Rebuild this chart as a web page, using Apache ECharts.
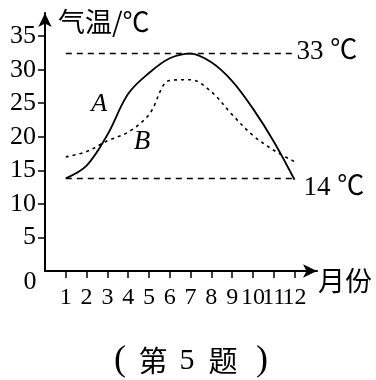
<!DOCTYPE html>
<html><head><meta charset="utf-8">
<script src="https://cdn.jsdelivr.net/npm/echarts@6/dist/echarts.min.js"></script>
<style>html,body{margin:0;padding:0;background:#fff}#c{width:376px;height:380px}</style>
</head><body><div id="c"></div>
<script>
const months = [1,2,3,4,5,6,7,8,9,10,11,12];
const tempA = [13.8, 15.7, 20.3, 26.4, 29.5, 31.7, 32.4, 31.1, 28.3, 24.2, 19.3, 13.6];
const tempB = [17.0, 17.8, 19.4, 20.7, 23.3, 28.4, 28.5, 26.7, 23.3, 20.2, 18.0, 16.3];
const yTicks = [5, 10, 15, 20, 25, 30, 35];
const highLine = 32.5, lowLine = 13.8;
const highText = '33 ℃', lowText = '14 ℃';
const yName = '气温/℃', xName = '月份';
const titleParts = ['(', '第', '5', '题', ')'];

const serif = '"Liberation Serif","Times New Roman","Noto Sans CJK SC",serif';
const cjk = '"Noto Sans CJK SC","Liberation Serif",sans-serif';
const chart = echarts.init(document.getElementById('c'));
const axisLine = {show: true, symbol: ['none', 'arrow'], symbolSize: [10, 14], symbolOffset: [0, 0], lineStyle: {color: '#000', width: 2}};
const option = {
  animation: false,
  backgroundColor: '#fff',
  grid: {left: 45, top: 13, width: 272, height: 258, containLabel: false},
  xAxis: {
    type: 'value', min: 0, max: 13.08, interval: 1,
    axisLine: axisLine,
    splitLine: {show: false},
    axisTick: {show: true, customValues: months, length: 7, lineStyle: {color: '#000', width: 1.5}},
    axisLabel: {show: false}
  },
  yAxis: {
    type: 'value', min: 0, max: 38.45, interval: 5,
    axisLine: axisLine,
    splitLine: {show: false},
    axisTick: {show: true, customValues: yTicks, length: 7, lineStyle: {color: '#000', width: 1.5}},
    axisLabel: {customValues: yTicks, margin: 9, fontSize: 26, color: '#000', fontFamily: serif}
  },
  series: [
    {type: 'line', name: 'A', data: months.map((m, i) => [m, tempA[i]]), smooth: 0.35, symbol: 'none',
     lineStyle: {color: '#000', width: 1.8},
     markLine: {silent: true, symbol: 'none', label: {show: false},
       lineStyle: {color: '#000', type: [6, 5], width: 1.4},
       data: [[{coord: [months[0], highLine]}, {coord: [months[11], highLine]}],
              [{coord: [months[0], lowLine]}, {coord: [months[11], lowLine]}]]}},
    {type: 'line', name: 'B', data: months.map((m, i) => [m, tempB[i]]), smooth: 0.35, symbol: 'none',
     lineStyle: {color: '#000', width: 1.6, type: [3, 4]}}
  ]
};
chart.setOption(option);
const px = (x, y) => chart.convertToPixel({gridIndex: 0}, [x, y]);
const o = px(0, 0), pA = px(2.6, 24.8), pB = px(4.66, 19.3);
const pH = px(12, highLine), pL = px(12, lowLine), yTop = px(0, 38.45), xEnd = px(13.08, 0);
const txt = (x, y, s, style) => ({type: 'text', x: x, y: y, style: Object.assign({text: s, fill: '#000', verticalAlign: 'middle'}, style)});
const titleX = [120, 153, 187, 223, 262];
const titleFont = [36, 29, 30, 29, 36];
const titleFam = [serif, cjk, serif, cjk, serif];
const graphics = [
  txt(o[0] - 15, o[1] + 11, '0', {fontSize: 26, fontFamily: serif, align: 'center'}),
  txt(pA[0], pA[1], 'A', {fontSize: 26, fontFamily: serif, fontStyle: 'italic', align: 'center'}),
  txt(pB[0], pB[1], 'B', {fontSize: 27, fontFamily: serif, fontStyle: 'italic', align: 'center'}),
  txt(pH[0] + 2, pH[1] - 1, highText, {fontSize: 27, fontFamily: serif, align: 'left'}),
  txt(pL[0] + 9, pL[1] + 10, lowText, {fontSize: 27, fontFamily: serif, align: 'left'}),
  txt(o[0] + 13, yTop[1] + 9, yName, {fontSize: 27, fontFamily: cjk, align: 'left'}),
  txt(xEnd[0] + 1, xEnd[1] + 10, xName, {fontSize: 27, fontFamily: cjk, align: 'left'})
];
months.forEach(m => { const p = px(m, 0); graphics.push(txt(p[0], p[1] + 27, String(m), {fontSize: 24, fontFamily: serif, align: 'center'})); });
titleParts.forEach((s, i) => graphics.push(txt(titleX[i], 361, s, {fontSize: titleFont[i], fontFamily: titleFam[i], align: 'center'})));
chart.setOption({graphic: graphics});
</script></body></html>
